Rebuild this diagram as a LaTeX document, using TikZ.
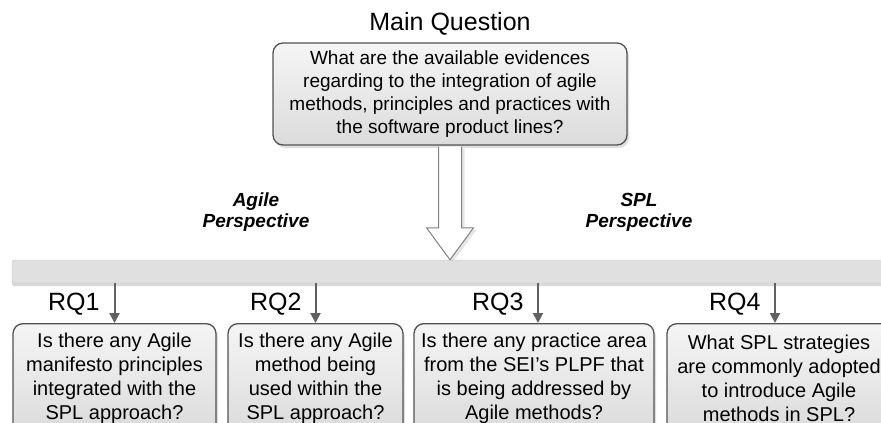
\documentclass[tikz,border=0pt]{standalone}
\usepackage{fontspec}
\setmainfont{Liberation Sans}
\usetikzlibrary{shadows,arrows.meta,calc}
\begin{document}
\begin{tikzpicture}[x=1pt,y=-1pt,
  qbox/.style={draw=black!68, line width=1.3pt, rounded corners=10pt,
    top color=black!4, bottom color=black!14, align=center, inner sep=0pt,
    drop shadow={opacity=0.25, shadow xshift=2pt, shadow yshift=-3pt}},
  mainfont/.style={font=\fontsize{19}{23}\selectfont},
  smallfont/.style={font=\fontsize{20}{24}\selectfont},
  bigfont/.style={font=\fontsize{25}{30}\selectfont},
  perspective/.style={font=\fontsize{19}{21}\selectfont\bfseries\itshape, align=center},
  barstyle/.style={draw=black!22, fill=black!12, rounded corners=2pt, inner sep=0pt,
    drop shadow={opacity=0.3, shadow xshift=0pt, shadow yshift=-3pt}},
  bigarrow/.style={draw=black!50, fill=white, line width=1pt, line join=miter,
    drop shadow={opacity=0.2, shadow xshift=3pt, shadow yshift=-2pt}},
  rqarrow/.style={draw=black!62, line width=2pt, -{Triangle[width=10pt,length=10pt]}}
]
\useasboundingbox (0,0) rectangle (881,423);
\clip (0,0) rectangle (881,423);

\node[bigfont] (title) at (450,24) {Main Question};

\node[barstyle, minimum width=890pt, minimum height=23pt] (bar) at (457,271.5) {};

\node[qbox, mainfont, minimum width=354pt, minimum height=102pt] (main) at (450,94)
  {What are the available evidences\\regarding to the integration of agile\\methods, principles and practices with\\the software product lines?};

\coordinate (ms) at ($(main.south)+(0,1)$);
\coordinate (tip) at (main.south |- bar.north);
\draw[bigarrow] ($(ms)+(-11.5,0)$) -- ($(tip)+(-11.5,-32)$) -- ($(tip)+(-23.5,-32)$)
  -- (tip) -- ($(tip)+(23.5,-32)$) -- ($(tip)+(11.5,-32)$) -- ($(ms)+(11.5,0)$);

\node[perspective] (agile) at (256,212) {Agile\\Perspective};
\node[perspective] (splp) at (639,212) {SPL\\Perspective};

\node[qbox, smallfont, anchor=north, minimum width=203pt, minimum height=110pt] (b1) at (114.5,323)
  {Is there any Agile\\manifesto principles\\integrated with the\\SPL approach?};
\node[qbox, smallfont, anchor=north, minimum width=175pt, minimum height=110pt] (b2) at (315.5,323)
  {Is there any Agile\\method being\\used within the\\SPL approach?};
\node[qbox, smallfont, anchor=north, minimum width=240pt, minimum height=110pt] (b3) at (534,323)
  {Is there any practice area\\from the SEI's PLPF that\\is being addressed by\\Agile methods?};
\node[qbox, smallfont, anchor=north, minimum width=224pt, minimum height=110pt] (b4) at (779,323)
  {What SPL strategies\\are commonly adopted\\to introduce Agile\\methods in SPL?};

\draw[rqarrow] (b1.north |- bar.south) -- (b1.north);
\draw[rqarrow] (b2.north |- bar.south) -- (b2.north);
\draw[rqarrow] ($(b3.north |- bar.south)+(4,0)$) -- ($(b3.north)+(4,0)$);
\draw[rqarrow] ($(b4.north |- bar.south)+(-4,0)$) -- ($(b4.north)+(-4,0)$);

\node[bigfont, anchor=east] (rq1) at (103,304) {RQ1};
\node[bigfont, anchor=east] (rq2) at (305,304) {RQ2};
\node[bigfont, anchor=east] (rq3) at (527,304) {RQ3};
\node[bigfont, anchor=east] (rq4) at (764,304) {RQ4};
\end{tikzpicture}
\end{document}
